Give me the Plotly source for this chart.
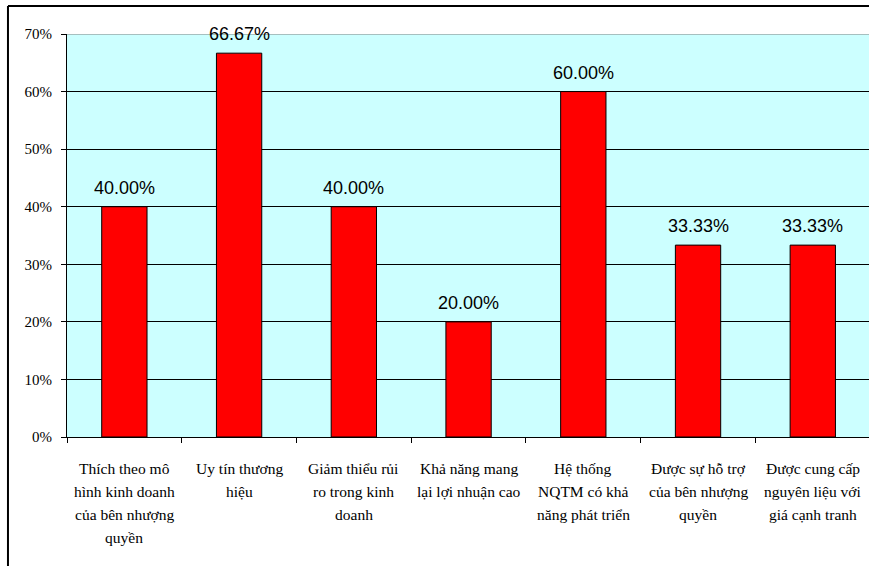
import plotly.graph_objects as go

# Lý do lựa chọn nhượng quyền (tỷ lệ %)
categories = [
    "Thích theo mô\nhình kinh doanh\ncủa bên nhượng\nquyền",
    "Uy tín thương\nhiệu",
    "Giảm thiểu rủi\nro trong kinh\ndoanh",
    "Khả năng mang\nlại lợi nhuận cao",
    "Hệ thống\nNQTM có khả\nnăng phát triển",
    "Được sự hỗ trợ\ncủa bên nhượng\nquyền",
    "Được cung cấp\nnguyên liệu với\ngiá cạnh tranh",
]
values = [40.00, 66.67, 40.00, 20.00, 60.00, 33.33, 33.33]
y_ticks = [0, 10, 20, 30, 40, 50, 60, 70]
y_tick_labels = ["0%", "10%", "20%", "30%", "40%", "50%", "60%", "70%"]

x_pos = list(range(len(categories)))

fig = go.Figure()
fig.add_trace(go.Bar(
    x=x_pos,
    y=values,
    marker=dict(color="#FF0000", line=dict(color="#000000", width=1)),
    hoverinfo="skip",
))

annotations = []
# value labels above each bar
for xi, v in zip(x_pos, values):
    annotations.append(dict(
        x=xi, y=v, xref="x", yref="y",
        text=f"{v:.2f}%", showarrow=False,
        yanchor="bottom", yshift=7,
        font=dict(family="Liberation Sans, Arial", size=18, color="#000000"),
    ))
# multi-line category labels under the axis
line_step = 23.3
for xi, label in zip(x_pos, categories):
    for j, line in enumerate(label.split("\n")):
        annotations.append(dict(
            x=xi, y=0, xref="x", yref="paper",
            text=line, showarrow=False,
            yanchor="middle", yshift=-(31 + j * line_step),
            font=dict(family="Liberation Serif, Times New Roman", size=15.5, color="#000000"),
        ))

border_left, border_top = -0.0736, 1.0695
shapes = [
    # gray top edge of the plot area
    dict(type="line", xref="paper", yref="y", x0=0, x1=1, y0=70, y1=70,
         line=dict(color="#808080", width=1), layer="above"),
    # outer chart border: left and top edges
    dict(type="line", xref="paper", yref="paper",
         x0=border_left, x1=border_left, y0=-0.6, y1=border_top,
         line=dict(color="#000000", width=2)),
    dict(type="line", xref="paper", yref="paper",
         x0=border_left, x1=1.0, y0=border_top, y1=border_top,
         line=dict(color="#000000", width=2)),
]

boundaries = [i - 0.5 for i in range(len(categories) + 1)]

fig.update_layout(
    width=869, height=566,
    margin=dict(l=67, r=0, t=34, b=129),
    paper_bgcolor="#FFFFFF",
    plot_bgcolor="#CCFFFF",
    showlegend=False,
    bargap=0.605,
    annotations=annotations,
    shapes=shapes,
    xaxis=dict(
        range=[-0.5, 6.49],
        tickmode="array", tickvals=boundaries, ticktext=[""] * len(boundaries),
        ticks="outside", ticklen=5, tickcolor="#000000", tickwidth=1,
        showgrid=False, zeroline=False,
        showline=True, linecolor="#000000", linewidth=1,
        fixedrange=True,
    ),
    yaxis=dict(
        range=[0, 70],
        tickmode="array", tickvals=y_ticks, ticktext=y_tick_labels,
        ticks="outside", ticklen=5, tickcolor="#000000", tickwidth=1,
        ticklabelstandoff=6,
        tickfont=dict(family="Liberation Serif, Times New Roman", size=15, color="#000000"),
        showgrid=True, gridcolor="#000000", gridwidth=1,
        zeroline=False,
        showline=True, linecolor="#000000", linewidth=1,
        fixedrange=True,
    ),
)

fig.write_html("out.html", config={"displayModeBar": False})
